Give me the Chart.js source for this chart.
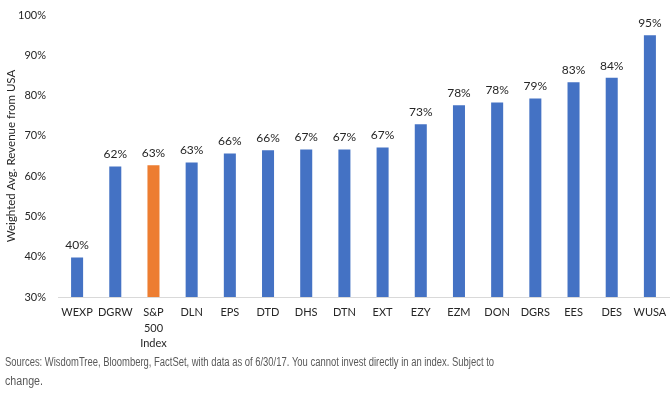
<!DOCTYPE html>
<html>
<head>
<meta charset="utf-8">
<script src="https://cdn.jsdelivr.net/npm/chart.js@4"></script>
<style>
  html, body { margin: 0; padding: 0; background: #fff; }
  #wrap { width: 672px; height: 401px; position: relative; }
</style>
</head>
<body>
<div id="wrap"><canvas id="revChart"></canvas></div>
<script>
// fund tickers and their weighted avg revenue from USA (%)
const tickers = ['WEXP', 'DGRW', ['S&P', '500', 'Index'], 'DLN', 'EPS', 'DTD', 'DHS', 'DTN', 'EXT', 'EZY', 'EZM', 'DON', 'DGRS', 'EES', 'DES', 'WUSA'];
const revenueUSA = [39.8, 62.4, 62.7, 63.4, 65.6, 66.4, 66.6, 66.6, 67.1, 72.9, 77.6, 78.3, 79.3, 83.3, 84.4, 95.0];
const yTicks = [30, 40, 50, 60, 70, 80, 90, 100];
const benchmarkIndex = 2;

const barColors = revenueUSA.map((v, i) => i === benchmarkIndex ? '#ED7D31' : '#4472C4');
const textFont = 'Lato, "Open Sans", sans-serif';

// value labels above each bar + source note at bottom
const labelsPlugin = {
  id: 'labelsPlugin',
  afterDatasetsDraw(chart) {
    const ctx = chart.ctx;
    const meta = chart.getDatasetMeta(0);
    ctx.save();
    ctx.font = '12px ' + textFont;
    ctx.fillStyle = '#262626';
    ctx.textAlign = 'center';
    ctx.textBaseline = 'middle';
    meta.data.forEach((bar, i) => {
      ctx.fillText(Math.round(revenueUSA[i]) + '%', bar.x, bar.y - 12);
    });
    ctx.restore();
  },
  afterDraw(chart) {
    const ctx = chart.ctx;
    ctx.save();
    ctx.font = '12px "Liberation Sans", Arial, sans-serif';
    ctx.fillStyle = '#595959';
    ctx.textAlign = 'left';
    ctx.textBaseline = 'middle';
    ctx.fillText('Sources: WisdomTree, Bloomberg, FactSet, with data as of 6/30/17. You cannot invest directly in an index. Subject to', 5, 363, 489);
    ctx.fillText('change.', 5, 382, 38);
    ctx.restore();
  }
};

const ctx = document.getElementById('revChart').getContext('2d');
const revChart = new Chart(ctx, {
  type: 'bar',
  data: {
    labels: tickers,
    datasets: [{
      data: revenueUSA,
      backgroundColor: barColors,
      barPercentage: 0.63,
      categoryPercentage: 0.5
    }]
  },
  options: {
    responsive: true,
    maintainAspectRatio: false,
    animation: false,
    layout: { padding: { top: 15, right: 3, left: 0, bottom: 0 } },
    plugins: {
      legend: { display: false },
      tooltip: { enabled: false }
    },
    scales: {
      x: {
        grid: { display: false },
        border: { display: true, color: '#d9d9d9', width: 1 },
        ticks: {
          color: '#262626',
          font: { family: textFont, size: 11, lineHeight: 1.4 },
          padding: 0,
          maxRotation: 0,
          autoSkip: false
        },
        afterFit(scale) { scale.height = 104; }
      },
      y: {
        min: 30,
        max: 100,
        afterBuildTicks(scale) { scale.ticks = yTicks.map(v => ({ value: v })); },
        grid: { display: false },
        border: { display: false },
        ticks: {
          color: '#262626',
          font: { family: textFont, size: 11 },
          padding: 4,
          callback: v => v + '%'
        },
        title: {
          display: true,
          text: 'Weighted Avg. Revenue from USA',
          color: '#262626',
          font: { family: textFont, size: 11.5 },
          padding: { top: 4, bottom: 0 }
        },
        afterFit(scale) {
          scale.width = 58;
          scale.paddingTop = 0;
          scale.paddingBottom = 0;
        }
      }
    }
  },
  plugins: [labelsPlugin]
});
</script>
</body>
</html>
